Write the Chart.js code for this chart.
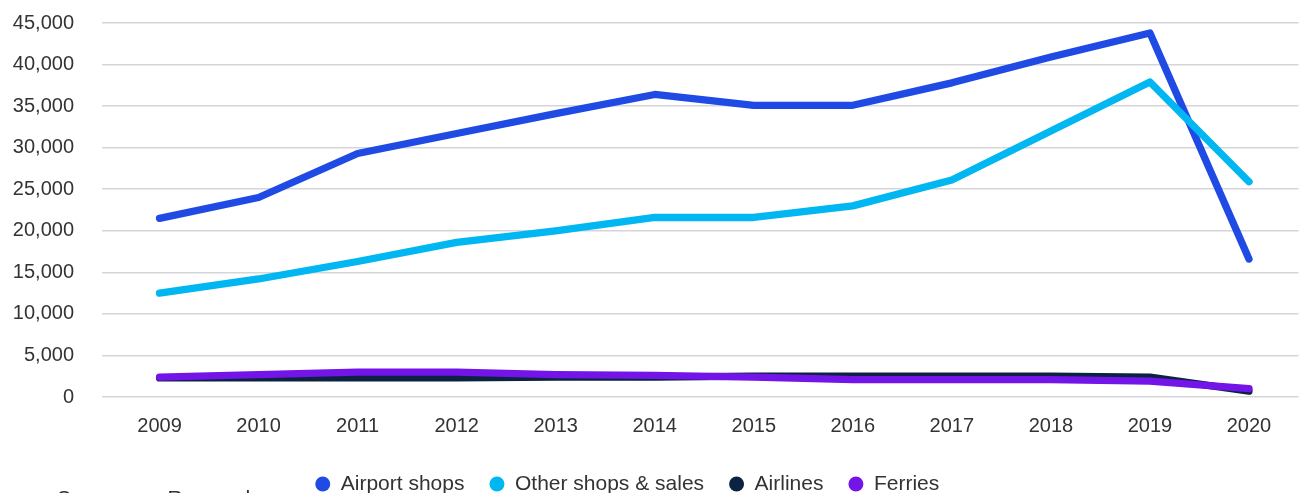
<!DOCTYPE html>
<html>
<head>
<meta charset="utf-8">
<script src="https://cdn.jsdelivr.net/npm/chart.js@4/dist/chart.umd.min.js"></script>
<style>
  html, body { margin: 0; padding: 0; background: #ffffff; overflow: hidden; }
  #wrap { position: relative; width: 1300px; height: 493px; overflow: hidden; }
  #c { position: absolute; left: 0; top: 0; }
  #src { position: absolute; left: 57px; top: 485px; font-family: "Liberation Sans", Arial, sans-serif;
         font-size: 21px; line-height: 25px; color: #333333; white-space: nowrap; }
</style>
</head>
<body>
<div id="wrap">
  <canvas id="c" width="1300" height="506"></canvas>
  <div id="src">Source:<span style="display:inline-block;width:38px"></span>Research</div>
</div>
<script>
const years = ["2009","2010","2011","2012","2013","2014","2015","2016","2017","2018","2019","2020"];
const airportShops = [21500, 24000, 29300, 31700, 34100, 36400, 35100, 35100, 37800, 40900, 43800, 16600];
const otherShops   = [12500, 14200, 16300, 18600, 20000, 21600, 21600, 23000, 26100, 32000, 37900, 25900];
const airlines     = [2300, 2300, 2300, 2300, 2400, 2400, 2500, 2500, 2500, 2500, 2400, 700];
const ferries      = [2400, 2700, 3000, 3000, 2700, 2600, 2400, 2100, 2100, 2100, 1900, 1000];
const seriesNames  = ["Airport shops", "Other shops & sales", "Airlines", "Ferries"];
const yTicks = [0, 5000, 10000, 15000, 20000, 25000, 30000, 35000, 40000, 45000];

const colors = ["#1f4ae3", "#00b7f2", "#0b2340", "#7314e8"];
const FONT = "'Liberation Sans', Arial, sans-serif";

function ds(label, data, color, order) {
  return {
    label, data, borderColor: color, backgroundColor: color,
    borderWidth: 7.3, pointRadius: 0, pointHoverRadius: 0, pointBorderWidth: 0,
    pointBackgroundColor: color, pointBorderColor: color, tension: 0,
    borderCapStyle: 'round', borderJoinStyle: 'round', fill: false, order
  };
}

const shiftLegend = {
  id: 'shiftLegend',
  afterLayout(chart) {
    const lg = chart.legend;
    if (lg) { lg.left -= 22; lg.right -= 22; }
  }
};

new Chart(document.getElementById('c'), {
  type: 'line',
  data: {
    labels: years,
    datasets: [
      ds(seriesNames[0], airportShops, colors[0], 4),
      ds(seriesNames[1], otherShops, colors[1], 3),
      ds(seriesNames[2], airlines, colors[2], 2),
      ds(seriesNames[3], ferries, colors[3], 1)
    ]
  },
  options: {
    responsive: false,
    animation: false,
    devicePixelRatio: 1,
    layout: { padding: { top: 23, right: 1.5, bottom: 1.5, left: 0 } },
    plugins: {
      tooltip: { enabled: false },
      legend: {
        position: 'bottom',
        labels: {
          usePointStyle: true,
          pointStyle: 'circle',
          boxWidth: 15,
          boxHeight: 10.6,
          padding: 25,
          color: '#333333',
          font: { family: FONT, size: 21 },
          sort: (a, b) => a.datasetIndex - b.datasetIndex
        }
      }
    },
    scales: {
      x: {
        offset: true,
        grid: { display: false, drawTicks: false },
        border: { display: false },
        ticks: { color: '#333333', font: { family: FONT, size: 20 }, padding: 17, maxRotation: 0 },
        afterFit: s => { s.height = 51.5; }
      },
      y: {
        min: 0, max: 45000,
        afterBuildTicks: s => { s.ticks = yTicks.map(v => ({ value: v })); },
        grid: { color: '#d5d5da', lineWidth: 1.5, drawTicks: true, tickLength: 8 },
        border: { display: false },
        ticks: {
          color: '#333333', font: { family: FONT, size: 20 }, padding: 28,
          callback: v => v.toLocaleString('en-US')
        },
        afterFit: s => { s.width = 110; s.paddingTop = 0; s.paddingBottom = 0; }
      }
    }
  },
  plugins: [shiftLegend]
});
</script>
</body>
</html>
